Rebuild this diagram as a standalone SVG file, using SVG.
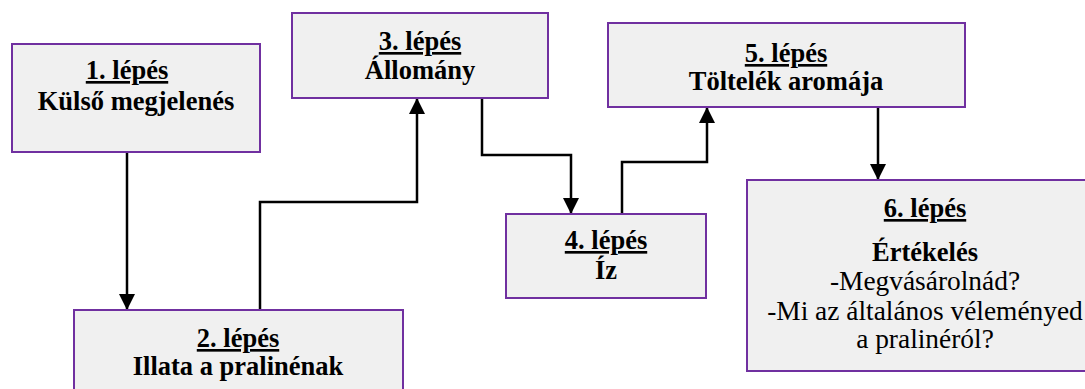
<svg xmlns="http://www.w3.org/2000/svg" width="1085" height="389" viewBox="0 0 1085 389">
  <style>
    .box { fill: #f0f0f0; stroke: #7030a0; stroke-width: 2; }
    .t { font-family: "Liberation Serif", "Times New Roman", serif; font-size: 26.5px; fill: #000; text-anchor: middle; }
    .b { font-weight: bold; }
    .r { font-size: 27.4px; }
    .u { text-decoration: underline; }
    .link { fill: none; stroke: #000; stroke-width: 2.5; }
  </style>
  <defs>
    <marker id="arrow" markerUnits="userSpaceOnUse" markerWidth="16" markerHeight="16" refX="16" refY="8" orient="auto">
      <path d="M0,0 L16,8 L0,16 z" fill="#000"/>
    </marker>
  </defs>
  <rect width="1085" height="389" fill="#fff"/>

  <g id="connectors">
    <path class="link" d="M127,152 V310" marker-end="url(#arrow)"/>
    <path class="link" d="M260,310 V202 H417 V98" marker-end="url(#arrow)"/>
    <path class="link" d="M482,98 V155 H571 V214" marker-end="url(#arrow)"/>
    <path class="link" d="M622,214 V162 H707 V107" marker-end="url(#arrow)"/>
    <path class="link" d="M878,107 V180" marker-end="url(#arrow)"/>
  </g>

  <g id="step1">
    <rect class="box" x="12" y="44" width="248" height="108"/>
    <text class="t b u" x="127" y="79">1. lépés</text>
    <text class="t b" x="136" y="110">Külső megjelenés</text>
  </g>

  <g id="step2">
    <rect class="box" x="74" y="310" width="329" height="100"/>
    <text class="t b u" x="238" y="347">2. lépés</text>
    <text class="t b" x="238" y="375">Illata a pralinénak</text>
  </g>

  <g id="step3">
    <rect class="box" x="292" y="13" width="256" height="85"/>
    <text class="t b u" x="420" y="50">3. lépés</text>
    <text class="t b" x="420" y="79">Állomány</text>
  </g>

  <g id="step4">
    <rect class="box" x="506" y="214" width="200" height="84"/>
    <text class="t b u" x="606" y="249">4. lépés</text>
    <text class="t b" x="606" y="279">Íz</text>
  </g>

  <g id="step5">
    <rect class="box" x="608" y="23" width="357" height="84"/>
    <text class="t b u" x="786" y="62">5. lépés</text>
    <text class="t b" x="786" y="90">Töltelék aromája</text>
  </g>

  <g id="step6">
    <rect class="box" x="747" y="180" width="356" height="191"/>
    <text class="t b u" x="925" y="217">6. lépés</text>
    <text class="t b" x="925" y="261">Értékelés</text>
    <text class="t r" x="925" y="290">-Megvásárolnád?</text>
    <text class="t r" x="925" y="320">-Mi az általános véleményed</text>
    <text class="t r" x="925" y="348">a pralinéról?</text>
  </g>
</svg>
